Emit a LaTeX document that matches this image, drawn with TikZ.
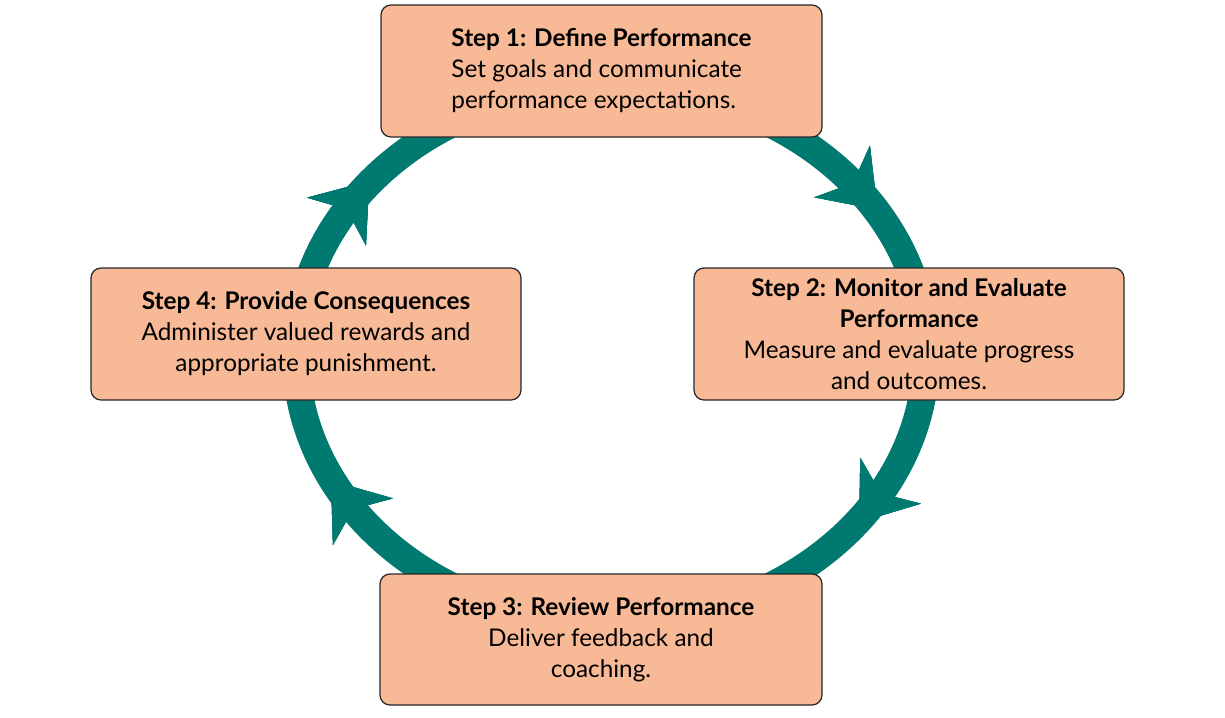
\documentclass[tikz,border=0pt]{standalone}
\usepackage{fontspec}
\setmainfont{Lato}
\usetikzlibrary{decorations.markings}
\definecolor{ringteal}{RGB}{0,121,112}
\definecolor{boxpeach}{RGB}{248,185,150}
\tikzset{every picture/.style={line width=0.75pt}}
\tikzset{
  step box/.style={draw=black!85, fill=boxpeach, rounded corners=6pt,
    inner sep=0pt, font=\fontsize{14.6}{18.6}\selectfont},
  ring head/.style={decoration={markings, mark=at position #1 with
    {\fill[ringteal] (28,0) -- (-24,38) -- (-8,0) -- (-24,-38) -- cycle;}},
    postaction={decorate}}
}
\begin{document}
\begin{tikzpicture}[x=0.6pt,y=-0.6pt]
\useasboundingbox (0,0) rectangle (1225,717);

%Ring
\draw [ringteal, line width=16.5pt, ring head=0.085, ring head=0.413,
  ring head=0.59, ring head=0.9] (611,355) ellipse [x radius=315, y radius=268];

%Boxes
\node (define) [step box, minimum width=264.6pt, minimum height=79.2pt, align=left]
  at (601.5,71) {\textbf{Step 1: Define Performance}\\Set goals and communicate\\performance expectations.};
\node (monitor) [step box, minimum width=258pt, minimum height=79.2pt, align=center]
  at (909,334) {\textbf{Step 2: Monitor and Evaluate}\\\textbf{Performance}\\Measure and evaluate progress\\and outcomes.};
\node (review) [step box, minimum width=265.2pt, minimum height=78.6pt, align=center]
  at (601,639.5) {\textbf{Step 3: Review Performance}\\Deliver feedback and\\coaching.};
\node (consequence) [step box, minimum width=258pt, minimum height=79.2pt, align=center]
  at (306,334) {\textbf{Step 4: Provide Consequences}\\Administer valued rewards and\\appropriate punishment.};

\end{tikzpicture}
\end{document}
